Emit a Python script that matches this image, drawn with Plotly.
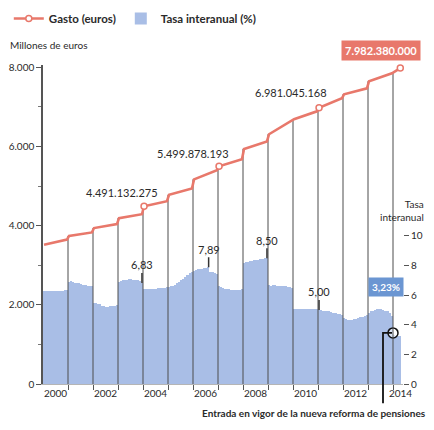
import plotly.graph_objects as go

# ---------------- data ----------------
anios = list(range(2000, 2015))
meses_por_anio = [12] * 14 + [4]

# Gasto mensual en pensiones (millones de euros): valor de enero y del último mes de cada año
gasto_enero = [3520, 3740, 3940, 4190, 4491.132275, 4780, 5170, 5499.878193,
               5940, 6310, 6690, 6981.045168, 7320, 7650, 7880]
gasto_final = [3650, 3830, 4040, 4290, 4620, 4940, 5400, 5680,
               6130, 6640, 6890, 7220, 7470, 7850, 7982.38]

# Tasa interanual (%) mensual
tasa_2000 = [6.3, 6.3, 6.3, 6.3, 6.3, 6.3, 6.3, 6.3, 6.3, 6.3, 6.35, 6.35]
tasa_2001 = [6.9, 6.95, 6.9, 6.85, 6.8, 6.8, 6.75, 6.7, 6.7, 6.65, 6.6, 6.6]
tasa_2002 = [5.5, 5.45, 5.4, 5.4, 5.3, 5.25, 5.2, 5.2, 5.25, 5.25, 5.3, 5.35]
tasa_2003 = [6.9, 6.95, 7.0, 7.0, 7.05, 7.1, 7.1, 7.05, 7.0, 7.0, 6.95, 6.83]
tasa_2004 = [6.45, 6.4, 6.4, 6.4, 6.45, 6.4, 6.45, 6.5, 6.5, 6.5, 6.5, 6.55]
tasa_2005 = [6.55, 6.6, 6.6, 6.7, 6.8, 6.9, 7.0, 7.1, 7.2, 7.35, 7.5, 7.6]
tasa_2006 = [7.65, 7.7, 7.75, 7.75, 7.8, 7.85, 7.87, 7.89, 7.6, 7.55, 7.5, 7.45]
tasa_2007 = [6.6, 6.55, 6.5, 6.45, 6.4, 6.4, 6.35, 6.35, 6.35, 6.35, 6.35, 6.4]
tasa_2008 = [8.2, 8.25, 8.25, 8.3, 8.3, 8.35, 8.4, 8.4, 8.45, 8.45, 8.5, 8.5]
tasa_2009 = [6.7, 6.65, 6.7, 6.7, 6.65, 6.65, 6.6, 6.6, 6.6, 6.55, 6.55, 6.5]
tasa_2010 = [5.1, 5.1, 5.1, 5.1, 5.1, 5.05, 5.1, 5.1, 5.1, 5.05, 5.05, 5.05]
tasa_2011 = [5.0, 5.0, 4.95, 4.95, 4.9, 4.9, 4.85, 4.8, 4.8, 4.75, 4.7, 4.65]
tasa_2012 = [4.45, 4.4, 4.35, 4.35, 4.35, 4.4, 4.4, 4.45, 4.5, 4.55, 4.6, 4.65]
tasa_2013 = [4.8, 4.9, 4.95, 5.0, 5.05, 5.1, 5.05, 5.0, 4.95, 4.9, 4.8, 4.6]
tasa_2014 = [3.3, 3.25, 3.25, 3.23]

tasas_por_anio = [tasa_2000, tasa_2001, tasa_2002, tasa_2003, tasa_2004, tasa_2005,
                  tasa_2006, tasa_2007, tasa_2008, tasa_2009, tasa_2010, tasa_2011,
                  tasa_2012, tasa_2013, tasa_2014]

hitos_gasto = [2004, 2007, 2011]                 # enero con etiqueta
tasas_destacadas = [(2003, 12), (2006, 8), (2008, 12), (2011, 1)]
reforma_fecha = 2014.0
reforma_tasa = 3.45

gasto_ticks = [0, 2000, 4000, 6000, 8000]
gasto_ticktext = ["0", "2.000", "4.000", "6.000", "8.000"]
tasa_ticks = [0, 2, 4, 6, 8, 10]
etiquetas_anio = [2000, 2002, 2004, 2006, 2008, 2010, 2012, 2014]

# ---------------- styling ----------------
SALMON = "#e8786b"
BAR = "#a9bee6"
BLUE_BOX = "#6b96d2"
DARK = "#2a2a2a"
FONT = "Lato, 'Open Sans', sans-serif"

X0, X1 = 2000.0, 2014.4
TASA_MAX = 21.55
GASTO_MAX = 8060


def mes_x(anio, mes):
    return anio + (mes - 0.5) / 12.0


def es_num(v):
    return f"{v:.2f}".replace(".", ",")


# month positions / bar series
bar_x, bar_y = [], []
for a, vals in zip(anios, tasas_por_anio):
    for m, v in enumerate(vals, start=1):
        bar_x.append(mes_x(a, m))
        bar_y.append(v)

# line series: start and end of each year
line_x, line_y = [], []
for a, n, g0, g1 in zip(anios, meses_por_anio, gasto_enero, gasto_final):
    line_x += [mes_x(a, 1), mes_x(a, n)]
    line_y += [g0, g1]

# vertical year separators
vx, vy = [], []
for a, g0 in zip(anios[1:], gasto_enero[1:]):
    vx += [a, a, None]
    vy += [0, g0, None]

fig = go.Figure()

fig.add_trace(go.Bar(
    x=bar_x, y=bar_y, yaxis="y", name="Tasa interanual (%)",
    marker=dict(color=BAR, line=dict(width=0)),
    width=1 / 12 * 0.82, showlegend=True,
))

fig.add_trace(go.Scatter(
    x=vx, y=vy, yaxis="y2", mode="lines",
    line=dict(color="#4d4d4d", width=1), showlegend=False, hoverinfo="skip",
))

fig.add_trace(go.Scatter(
    x=line_x, y=line_y, yaxis="y2", mode="lines",
    line=dict(color=SALMON, width=2.6), showlegend=False,
))

# highlighted points
hx, hy = [], []
for a in hitos_gasto:
    i = anios.index(a)
    hx.append(mes_x(a, 1))
    hy.append(gasto_enero[i])
hx.append(line_x[-1])
hy.append(line_y[-1])
fig.add_trace(go.Scatter(
    x=hx, y=hy, yaxis="y2", mode="markers",
    marker=dict(size=6, color="white", line=dict(color=SALMON, width=1.5)),
    showlegend=False, cliponaxis=False,
))

# legend proxy for the line
fig.add_trace(go.Scatter(
    x=[None], y=[None], yaxis="y2", mode="lines+markers", name="Gasto (euros)",
    line=dict(color=SALMON, width=2.6),
    marker=dict(size=6, color="white", line=dict(color=SALMON, width=1.5)),
))

# reform marker
fig.add_trace(go.Scatter(
    x=[reforma_fecha], y=[reforma_tasa], yaxis="y", mode="markers",
    marker=dict(size=10, color="rgba(255,255,255,0.6)", line=dict(color="#111", width=1.5)),
    showlegend=False, cliponaxis=False,
))

annotations = []


def fmt_euros(v):
    return f"{int(round(v * 1e6)):,}".replace(",", ".")


offsets = [(-22, 14), (-26, 13), (-28, 15)]
for (a, (dx, dy)) in zip(hitos_gasto, offsets):
    i = anios.index(a)
    annotations.append(dict(
        x=mes_x(a, 1), y=gasto_enero[i], xref="x", yref="y2",
        text=fmt_euros(gasto_enero[i]), showarrow=False,
        xshift=dx, yshift=dy, font=dict(size=11, color=DARK, family=FONT),
    ))
annotations.append(dict(
    x=line_x[-1], y=line_y[-1], xref="x", yref="y2",
    text="<b>" + fmt_euros(line_y[-1]) + "</b>", showarrow=False,
    xshift=-19, yshift=18, bgcolor=SALMON, borderpad=3,
    font=dict(size=11, color="white", family=FONT),
))

# tasa labels
for (a, m) in tasas_destacadas:
    v = tasas_por_anio[anios.index(a)][m - 1]
    annotations.append(dict(
        x=mes_x(a, m), y=v, xref="x", yref="y",
        text=es_num(v), showarrow=True, arrowhead=0, arrowwidth=1.5,
        arrowcolor="#333", ax=0, ay=-18,
        font=dict(size=11, color=DARK, family=FONT),
    ))

# last rate box
annotations.append(dict(
    x=bar_x[-1], y=bar_y[-1], xref="x", yref="y",
    text="<b>" + es_num(bar_y[-1]) + "%</b>", showarrow=False,
    xshift=-14, yshift=49, bgcolor=BLUE_BOX, borderpad=3,
    font=dict(size=10, color="white", family=FONT),
))

# axis titles
annotations.append(dict(
    x=-0.097, y=1.063, xref="paper", yref="paper", xanchor="left", yanchor="middle",
    text="Millones de euros", showarrow=False,
    font=dict(size=10, color=DARK, family=FONT),
))
annotations.append(dict(
    x=1.065, y=0.545, xref="paper", yref="paper", xanchor="right", yanchor="middle",
    text="Tasa<br>interanual", showarrow=False, align="right",
    font=dict(size=10, color=DARK, family=FONT),
))

# reform note
px_conn = (reforma_fecha - 0.4 - X0) / (X1 - X0)
px_circ = (reforma_fecha - 0.04 - X0) / (X1 - X0)
py_circ = reforma_tasa / TASA_MAX
annotations.append(dict(
    x=1.07, y=-0.092, xref="paper", yref="paper", xanchor="right", yanchor="middle",
    text="<b>Entrada en vigor de la nueva reforma de pensiones</b>", showarrow=False,
    font=dict(size=10, color=DARK, family=FONT),
))

shapes = [dict(
    type="path", xref="paper", yref="paper",
    path=f"M {px_circ} {py_circ} L {px_conn} {py_circ} L {px_conn} -0.06",
    line=dict(color="#111", width=1.8),
)]

# the page body adds an 8px offset; size the figure so it fills the 434x430 window
fig.update_layout(
    width=426, height=422,
    margin=dict(l=35, r=31, t=57, b=46, autoexpand=False),
    paper_bgcolor="white", plot_bgcolor="white",
    font=dict(family=FONT, color=DARK),
    bargap=0,
    showlegend=True,
    legend=dict(
        orientation="h", x=-0.095, y=1.146, xanchor="left", yanchor="middle",
        font=dict(size=11.5, color=DARK, family=FONT, weight="bold"),
        traceorder="reversed", itemwidth=30, bgcolor="rgba(0,0,0,0)",
    ),
    xaxis=dict(
        range=[X0, X1], showgrid=False, zeroline=False, automargin=False,
        showline=True, linecolor="#b5b5b5", linewidth=1,
        tickmode="array",
        tickvals=[min(a + 0.5, X1 - 0.1) for a in etiquetas_anio],
        ticktext=[str(a) for a in etiquetas_anio],
        ticks="", tickfont=dict(size=10, color=DARK, family=FONT),
        minor=dict(tickmode="array", tickvals=anios[1:], ticks="outside",
                   ticklen=5, tickcolor="#555", tickwidth=1),
    ),
    yaxis=dict(
        range=[0, TASA_MAX], side="right", showgrid=False, zeroline=False,
        automargin=False, showline=False, tickmode="array", tickvals=tasa_ticks,
        ticks="outside", ticklen=5, tickcolor="#555",
        tickfont=dict(size=10, color=DARK, family=FONT),
    ),
    yaxis2=dict(
        range=[0, GASTO_MAX], side="left", overlaying="y", showgrid=False,
        automargin=False, zeroline=False, showline=True, linecolor="#555", linewidth=1.5,
        tickmode="array", tickvals=gasto_ticks, ticktext=gasto_ticktext,
        ticks="outside", ticklen=5, tickcolor="#555",
        tickfont=dict(size=10, color=DARK, family=FONT),
        minor=dict(dtick=1000, ticks="outside", ticklen=3, tickcolor="#777"),
    ),
    annotations=annotations,
    shapes=shapes,
)

fig.write_html("out.html")
